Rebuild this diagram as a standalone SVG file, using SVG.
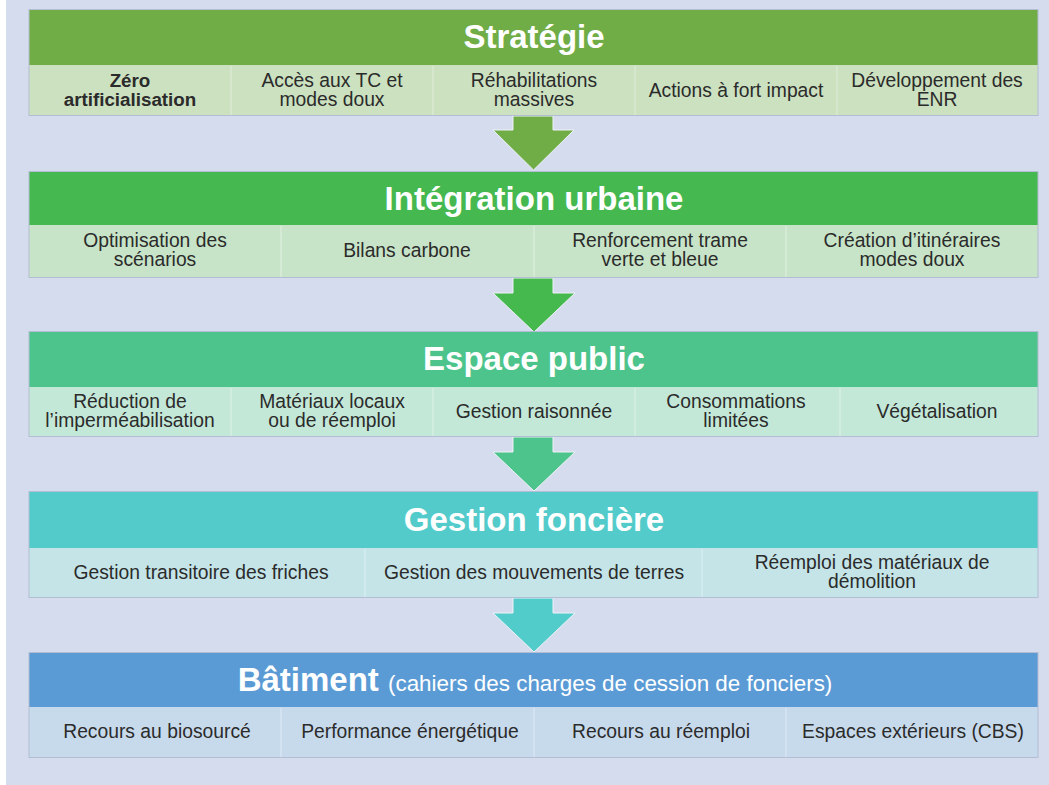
<svg xmlns="http://www.w3.org/2000/svg" width="1049" height="785" viewBox="0 0 1049 785">
  <style>
    .hdr { font-family: "Liberation Sans", Arial, sans-serif; font-weight: bold; font-size: 33px; fill: #ffffff; text-anchor: middle; }
    .hdr-sub { font-family: "Liberation Sans", Arial, sans-serif; font-weight: normal; font-size: 22.4px; fill: #ffffff; }
    .cell { font-family: "Liberation Sans", Arial, sans-serif; font-size: 19.3px; fill: #2b2b2b; text-anchor: middle; }
    .bold { font-weight: bold; font-size: 18.8px; }
    .frame { fill: none; stroke: #b3bdd4; stroke-width: 1; }
    .div { stroke: #ffffff; stroke-opacity: 0.3; stroke-width: 1.5; }
    .arrow { stroke: #eef2f8; stroke-width: 1; stroke-linejoin: miter; }
  </style>

  <!-- page background -->
  <rect x="0" y="0" width="1049" height="785" fill="#ffffff"/>
  <rect x="6" y="0" width="1043" height="785" fill="#d5dced"/>

  <!-- flow arrows between the stages -->
  <g id="connectors">
    <path class="arrow" fill="#70ad47" d="M513,116 H553 V130 H574 L533.5,170 L493,130 H513 Z"/>
    <path class="arrow" fill="#46b94e" d="M513,278 H553 V293 H575 L534,332 L493,293 H513 Z"/>
    <path class="arrow" fill="#4cc48b" d="M513,437 H553 V452 H575 L534,491 L493,452 H513 Z"/>
    <path class="arrow" fill="#52cbcb" d="M513,598 H553 V613 H575 L534,652 L493,613 H513 Z"/>
  </g>

  <!-- Stage 1 -->
  <g id="strategie">
    <rect x="29" y="10" width="1009" height="55" fill="#70ad47"/>
    <rect x="29" y="65" width="1009" height="50" fill="#cce1c0"/>
    <rect class="frame" x="29" y="9.5" width="1009" height="106"/>
    <line class="div" x1="231" y1="66" x2="231" y2="115"/>
    <line class="div" x1="433" y1="66" x2="433" y2="115"/>
    <line class="div" x1="635" y1="66" x2="635" y2="115"/>
    <line class="div" x1="837" y1="66" x2="837" y2="115"/>
    <text class="hdr" x="534" y="48">Stratégie</text>
    <text class="cell bold" x="130" y="87">Zéro</text>
    <text class="cell bold" x="130" y="106">artificialisation</text>
    <text class="cell" x="332" y="87">Accès aux TC et</text>
    <text class="cell" x="332" y="106">modes doux</text>
    <text class="cell" x="534" y="87">Réhabilitations</text>
    <text class="cell" x="534" y="106">massives</text>
    <text class="cell" x="736" y="97">Actions à fort impact</text>
    <text class="cell" x="937" y="87">Développement des</text>
    <text class="cell" x="937" y="106">ENR</text>
  </g>

  <!-- Stage 2 -->
  <g id="integration-urbaine">
    <rect x="29" y="172" width="1009" height="53" fill="#45b84f"/>
    <rect x="29" y="225" width="1009" height="52" fill="#c8e4c8"/>
    <rect class="frame" x="29" y="171.5" width="1009" height="106"/>
    <line class="div" x1="281" y1="226" x2="281" y2="277"/>
    <line class="div" x1="534" y1="226" x2="534" y2="277"/>
    <line class="div" x1="786" y1="226" x2="786" y2="277"/>
    <text class="hdr" x="534" y="210">Intégration urbaine</text>
    <text class="cell" x="155" y="247">Optimisation des</text>
    <text class="cell" x="155" y="266">scénarios</text>
    <text class="cell" x="407" y="257">Bilans carbone</text>
    <text class="cell" x="660" y="247">Renforcement trame</text>
    <text class="cell" x="660" y="266">verte et bleue</text>
    <text class="cell" x="912" y="247">Création d’itinéraires</text>
    <text class="cell" x="912" y="266">modes doux</text>
  </g>

  <!-- Stage 3 -->
  <g id="espace-public">
    <rect x="29" y="332" width="1009" height="55" fill="#4dc48c"/>
    <rect x="29" y="387" width="1009" height="49" fill="#c4e8d8"/>
    <rect class="frame" x="29" y="331.5" width="1009" height="105"/>
    <line class="div" x1="231" y1="388" x2="231" y2="436"/>
    <line class="div" x1="433" y1="388" x2="433" y2="436"/>
    <line class="div" x1="635" y1="388" x2="635" y2="436"/>
    <line class="div" x1="840" y1="388" x2="840" y2="436"/>
    <text class="hdr" x="534" y="370">Espace public</text>
    <text class="cell" x="130" y="408">Réduction de</text>
    <text class="cell" x="130" y="427">l’imperméabilisation</text>
    <text class="cell" x="332" y="408">Matériaux locaux</text>
    <text class="cell" x="332" y="427">ou de réemploi</text>
    <text class="cell" x="534" y="418">Gestion raisonnée</text>
    <text class="cell" x="736" y="408">Consommations</text>
    <text class="cell" x="736" y="427">limitées</text>
    <text class="cell" x="937" y="418">Végétalisation</text>
  </g>

  <!-- Stage 4 -->
  <g id="gestion-fonciere">
    <rect x="29" y="492" width="1009" height="56" fill="#53cbcb"/>
    <rect x="29" y="548" width="1009" height="49" fill="#c4e4e8"/>
    <rect class="frame" x="29" y="491.5" width="1009" height="106"/>
    <line class="div" x1="365" y1="549" x2="365" y2="597"/>
    <line class="div" x1="702" y1="549" x2="702" y2="597"/>
    <text class="hdr" x="534" y="531">Gestion foncière</text>
    <text class="cell" x="201" y="579">Gestion transitoire des friches</text>
    <text class="cell" x="534" y="579">Gestion des mouvements de terres</text>
    <text class="cell" x="872" y="569">Réemploi des matériaux de</text>
    <text class="cell" x="872" y="588">démolition</text>
  </g>

  <!-- Stage 5 -->
  <g id="batiment">
    <rect x="29" y="653" width="1009" height="54" fill="#5b9bd5"/>
    <rect x="29" y="707" width="1009" height="50" fill="#c7daec"/>
    <rect class="frame" x="29" y="652.5" width="1009" height="105"/>
    <line class="div" x1="281" y1="708" x2="281" y2="757"/>
    <line class="div" x1="534" y1="708" x2="534" y2="757"/>
    <line class="div" x1="786" y1="708" x2="786" y2="757"/>
    <text class="hdr" x="535" y="691">Bâtiment <tspan class="hdr-sub">(cahiers des charges de cession de fonciers)</tspan></text>
    <text class="cell" x="157" y="738">Recours au biosourcé</text>
    <text class="cell" x="410" y="738">Performance énergétique</text>
    <text class="cell" x="661" y="738">Recours au réemploi</text>
    <text class="cell" x="913" y="738">Espaces extérieurs (CBS)</text>
  </g>
</svg>
